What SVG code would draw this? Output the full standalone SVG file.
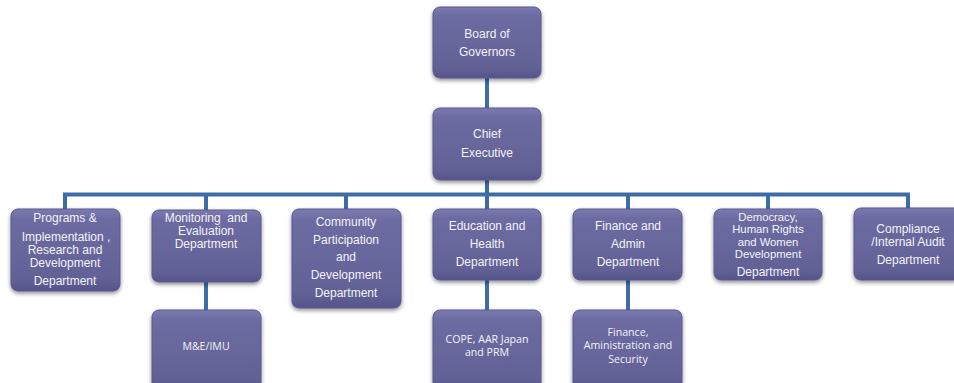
<svg xmlns="http://www.w3.org/2000/svg" width="954" height="383" viewBox="0 0 954 383">
<defs>
<linearGradient id="g" x1="0" y1="0" x2="0" y2="1">
<stop offset="0" stop-color="#7c7bb0"/>
<stop offset="0.12" stop-color="#6d6ca2"/>
<stop offset="0.85" stop-color="#626196"/>
<stop offset="1" stop-color="#55548a"/>
</linearGradient>
<filter id="sh" x="-10%" y="-10%" width="125%" height="130%">
<feGaussianBlur in="SourceAlpha" stdDeviation="2"/>
<feOffset dx="0" dy="2" result="b"/>
<feComponentTransfer><feFuncA type="linear" slope="0.45"/></feComponentTransfer>
<feMerge><feMergeNode/><feMergeNode in="SourceGraphic"/></feMerge>
</filter>
</defs>
<style>
.box{fill:url(#g);stroke:#5a5990;stroke-width:1;filter:url(#sh)}
.t{font-family:"Liberation Sans",Arial,sans-serif;font-size:12px;fill:#f2f2f8;text-anchor:middle}
.s{font-size:11.3px}
.c{font-family:"Open Sans","Noto Sans",sans-serif;font-size:10.6px;fill:#f2f2f8;text-anchor:middle}
.ln{stroke:#3c6da6;stroke-width:4;fill:none}
</style>
<g id="connectors">
<line class="ln" x1="487" y1="78" x2="487" y2="108"/>
<line class="ln" x1="487" y1="180" x2="487" y2="209"/>
<polyline class="ln" points="65,209 65,194.5 908,194.5 908,209"/>
<line class="ln" x1="206" y1="194" x2="206" y2="210"/>
<line class="ln" x1="346" y1="194" x2="346" y2="209"/>
<line class="ln" x1="628" y1="194" x2="628" y2="209"/>
<line class="ln" x1="768" y1="194" x2="768" y2="209"/>
<line class="ln" x1="206" y1="282" x2="206" y2="310"/>
<line class="ln" x1="487" y1="280" x2="487" y2="310"/>
<line class="ln" x1="628" y1="280" x2="628" y2="310"/>
</g>
<g id="board">
<rect class="box" x="433" y="7" width="108" height="71" rx="7"/>
<text class="t" x="487" y="38">Board of</text>
<text class="t" x="487" y="56">Governors</text>
</g>
<g id="chief">
<rect class="box" x="433" y="108" width="108" height="72" rx="7"/>
<text class="t" x="487" y="138">Chief</text>
<text class="t" x="487" y="157">Executive</text>
</g>
<g id="programs">
<rect class="box" x="11" y="209" width="109" height="82" rx="7"/>
<text class="t" x="65" y="222">Programs &amp;</text>
<text class="t" x="66" y="241">Implementation ,</text>
<text class="t" x="65" y="254">Research and</text>
<text class="t" x="65" y="267">Development</text>
<text class="t" x="65" y="285">Department</text>
</g>
<g id="monitoring">
<rect class="box" x="152" y="210" width="109" height="72" rx="7"/>
<text class="t" x="206" y="222" xml:space="preserve">Monitoring  and</text>
<text class="t" x="206" y="235">Evaluation</text>
<text class="t" x="206" y="248">Department</text>
</g>
<g id="community">
<rect class="box" x="292" y="209" width="109" height="99" rx="7"/>
<text class="t" x="346" y="226">Community</text>
<text class="t" x="346" y="244">Participation</text>
<text class="t" x="346" y="261">and</text>
<text class="t" x="346" y="279">Development</text>
<text class="t" x="346" y="297">Department</text>
</g>
<g id="education">
<rect class="box" x="433" y="209" width="108" height="71" rx="7"/>
<text class="t" x="487" y="230">Education and</text>
<text class="t" x="487" y="248">Health</text>
<text class="t" x="487" y="266">Department</text>
</g>
<g id="finance">
<rect class="box" x="573" y="209" width="109" height="71" rx="7"/>
<text class="t" x="628" y="230">Finance and</text>
<text class="t" x="628" y="248">Admin</text>
<text class="t" x="628" y="266">Department</text>
</g>
<g id="democracy">
<rect class="box" x="714" y="209" width="108" height="71" rx="7"/>
<text class="t s" x="768" y="220.5">Democracy,</text>
<text class="t s" x="768" y="233">Human Rights</text>
<text class="t s" x="768" y="245.5">and Women</text>
<text class="t s" x="768" y="258">Development</text>
<text class="t" x="768" y="276">Department</text>
</g>
<g id="compliance">
<rect class="box" x="854" y="208" width="108" height="72" rx="7"/>
<text class="t" x="908" y="233">Compliance</text>
<text class="t" x="908" y="246">/Internal Audit</text>
<text class="t" x="908" y="264">Department</text>
</g>
<g id="me-imu">
<rect class="box" x="152" y="310" width="109" height="80" rx="7"/>
<text class="c" x="206" y="350">M&amp;E/IMU</text>
</g>
<g id="cope">
<rect class="box" x="433" y="310" width="108" height="80" rx="7"/>
<text class="c" x="487" y="343">COPE, AAR Japan</text>
<text class="c" x="487" y="356">and PRM</text>
</g>
<g id="finance-admin">
<rect class="box" x="573" y="310" width="109" height="80" rx="7"/>
<text class="c" x="628" y="336">Finance,</text>
<text class="c" x="628" y="349">Aministration and</text>
<text class="c" x="628" y="363">Security</text>
</g>
</svg>
